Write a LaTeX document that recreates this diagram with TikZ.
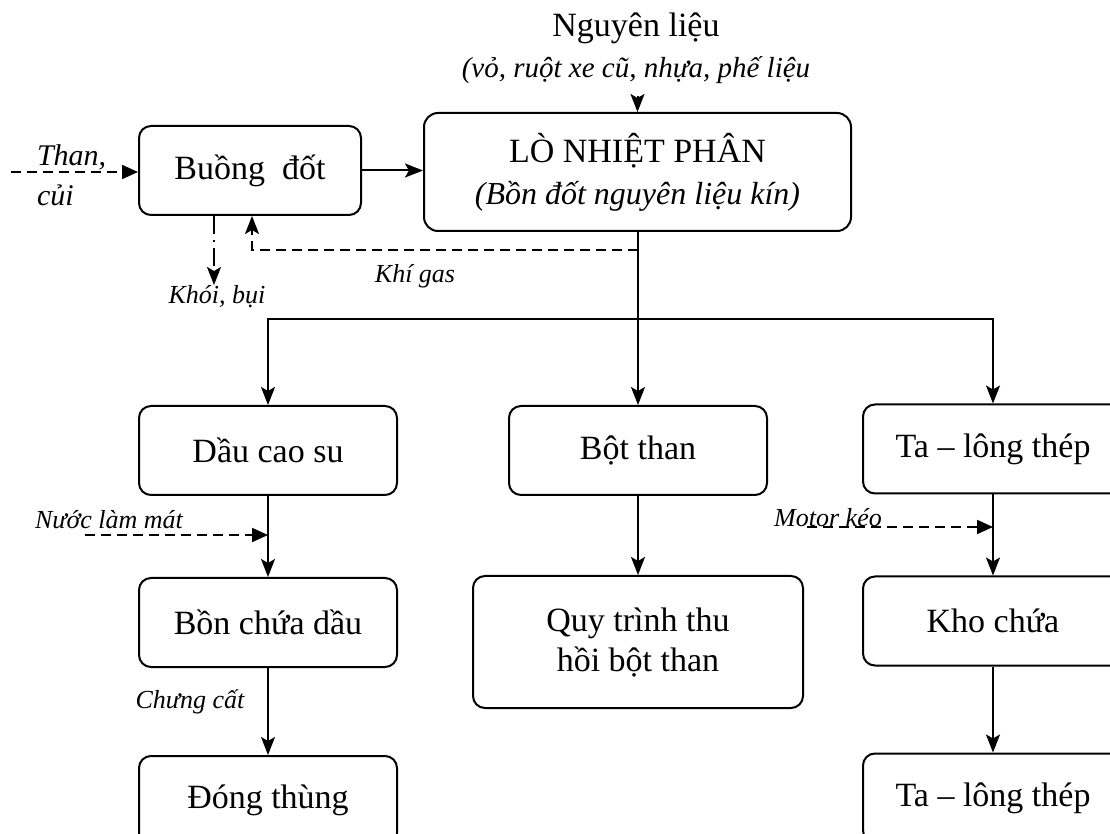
\documentclass[tikz,border=0pt]{standalone}
\usepackage{fontspec}
\setmainfont{Liberation Serif}
\usetikzlibrary{arrows.meta,calc,positioning}

\begin{document}
\begin{tikzpicture}[x=0.5pt,y=-0.5pt,>={Stealth[length=9pt,width=7pt,inset=2pt]},line width=1pt,node distance=40pt,
    every node/.style={align=center},
    box/.style={draw,rounded corners=6pt,minimum width=129pt,minimum height=44.5pt,inner sep=2pt,font=\fontsize{17}{20}\selectfont},
    note/.style={inner sep=0pt,font=\itshape\fontsize{13}{16}\selectfont},
    feed/.style={dash pattern=on 5pt off 3pt,-{Triangle[length=8pt,width=7pt]}}]
    \useasboundingbox (0,0) rectangle (1110,834);
    \clip (0,0) rectangle (1110,834);
    \node[font=\fontsize{17}{20}\selectfont] (mat) at (636,28) {Nguyên liệu};
    \node[font=\itshape\fontsize{14.5}{17}\selectfont] (matnote) at (636,70) {(vỏ, ruột xe cũ, nhựa, phế liệu};
    \node[box,minimum width=111pt] (burn) at (250,170.5) {Buồng\ \ đốt};
    \node[box,minimum width=213.5pt,minimum height=59pt,rounded corners=7pt] (pyro) at (637.5,172) {LÒ NHIỆT PHÂN\\[1pt]{\itshape\fontsize{16}{20}\selectfont(Bồn đốt nguyên liệu kín)}};
    \node[box] (oil) at (268,450.5) {Dầu cao su};
    \node[box,below=40.5pt of oil] (tank) {Bồn chứa dầu};
    \node[box,below=43.5pt of tank] (barrel) {Đóng thùng};
    \node[box] (char) at (638,450.5) {Bột than};
    \node[box,minimum width=165pt,minimum height=66pt,below=39.5pt of char] (recov) {Quy trình thu\\hồi bột than};
    \node[box,minimum width=130pt] (steel) at (993,449) {Ta – lông thép};
    \node[box,minimum width=130pt,below=40.5pt of steel] (store) {Kho chứa};
    \node[box,minimum width=130pt,below=43pt of store] (steel2) {Ta – lông thép};
    \node[anchor=west,align=left,inner sep=0pt,font=\itshape\fontsize{15}{20}\selectfont] (fuellbl) at (36,175) {Than,\\củi};
    \node[note] (smokelbl) at (217,297) {Khói, bụi};
    \node[note] (gaslbl) at (415,276) {Khí gas};
    \node[note] (waterlbl) at (109,520) {Nước làm mát};
    \node[note] (distlbl) at (190,702) {Chưng cất};
    \node[note] (motorlbl) at (828,518) {Motor kéo};
    \coordinate (matin) at (637.5,96);
    \coordinate (fuelin) at (11,172);
    \coordinate (smoke) at (214,285);
    \coordinate (gastap) at (637.5,250);
    \coordinate (split) at (637.5,319);
    \coordinate (waterin) at (85,535);
    \coordinate (motorin) at (807,527);
    \draw[->] (matin) -- (pyro.north);
    \draw[feed] (fuelin) -- (burn.west |- fuelin);
    \draw[->] (burn.east) -- (pyro.west |- burn.east);
    \draw[dash pattern=on 9pt off 3pt on 1pt off 3pt,->] (smoke |- burn.south) -- (smoke);
    \draw[dash pattern=on 5pt off 3pt,->] (gastap) -| ([xshift=1pt]burn.south);
    \draw (pyro.south) -- (split);
    \draw[->] (split) -| (oil.north); \draw[->] (split) -| (steel.north);
    \draw[->] (char.north |- split) -- (char.north);
    \draw[->] (oil) -- (tank); \draw[->] (tank) -- (barrel);
    \draw[feed] (waterin) -- (oil.south |- waterin);
    \draw[->] (char) -- (recov);
    \draw[->] (steel) -- (store); \draw[->] (store) -- (steel2);
    \draw[feed] (motorin) -- (steel.south |- motorin);
  \end{tikzpicture}
\end{document}
